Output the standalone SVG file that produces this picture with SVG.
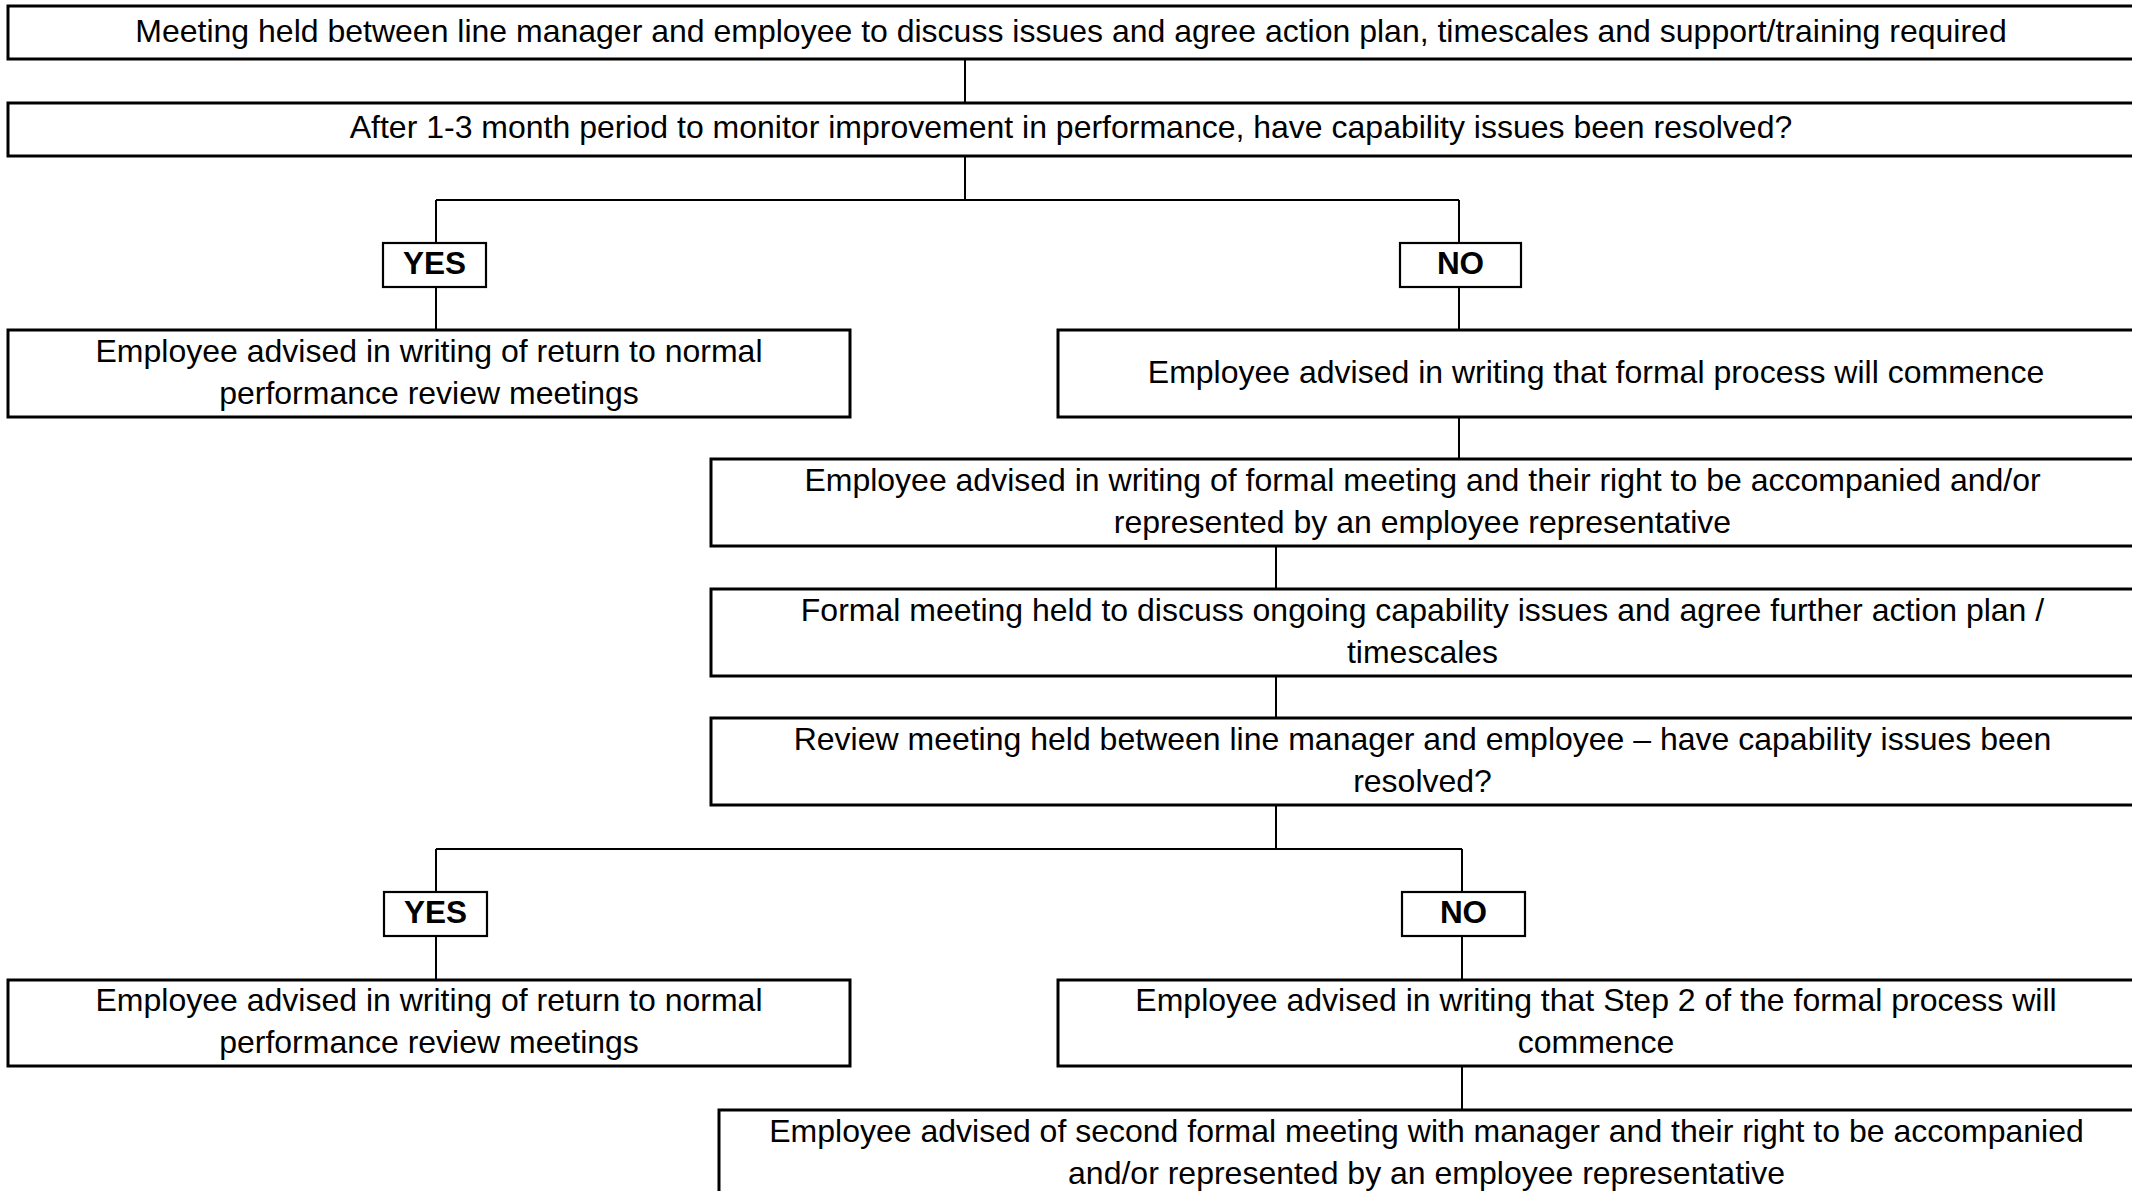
<svg xmlns="http://www.w3.org/2000/svg" width="2132" height="1191" viewBox="0 0 2132 1191">
<style>
.box{fill:#fff;stroke:#000;stroke-width:3}
.lbl{fill:#fff;stroke:#000;stroke-width:2.2}
.t{font-family:"Liberation Sans",Arial,sans-serif;font-size:32px;fill:#000;text-anchor:middle}
.b{font-family:"Liberation Sans",Arial,sans-serif;font-size:31.5px;font-weight:bold;fill:#000;text-anchor:middle}
.c{fill:none;stroke:#000;stroke-width:2}
</style>
<rect width="2132" height="1191" fill="#fff"/>
<g id="connectors">
<path class="c" d="M965 59V103"/>
<path class="c" d="M965 156V200M436 200H1459M436 200V243M1459 200V243"/>
<path class="c" d="M436 287V330M1459 287V330"/>
<path class="c" d="M1459 417V459"/>
<path class="c" d="M1276 546V589"/>
<path class="c" d="M1276 676V718"/>
<path class="c" d="M1276 805V849M436 849H1462M436 849V892M1462 849V892"/>
<path class="c" d="M436 936V980M1462 936V980"/>
<path class="c" d="M1462 1066V1110"/>
</g>
<g id="n1"><rect class="box" x="8" y="6" width="2126" height="53"/><text class="t" x="1071" y="42">Meeting held between line manager and employee to discuss issues and agree action plan, timescales and support/training required</text></g>
<g id="n2"><rect class="box" x="8" y="103" width="2126" height="53"/><text class="t" x="1071" y="138">After 1-3 month period to monitor improvement in performance, have capability issues been resolved?</text></g>
<g id="yes1"><rect class="lbl" x="383" y="243" width="103" height="44"/><text class="b" x="434.5" y="274">YES</text></g>
<g id="no1"><rect class="lbl" x="1400" y="243" width="121" height="44"/><text class="b" x="1460.5" y="274">NO</text></g>
<g id="n3"><rect class="box" x="8" y="330" width="842" height="87"/><text class="t" x="429" y="362">Employee advised in writing of return to normal</text><text class="t" x="429" y="404">performance review meetings</text></g>
<g id="n4"><rect class="box" x="1058" y="330" width="1076" height="87"/><text class="t" x="1596" y="383">Employee advised in writing that formal process will commence</text></g>
<g id="n5"><rect class="box" x="711" y="459" width="1423" height="87"/><text class="t" x="1422.5" y="491">Employee advised in writing of formal meeting and their right to be accompanied and/or</text><text class="t" x="1422.5" y="533">represented by an employee representative</text></g>
<g id="n6"><rect class="box" x="711" y="589" width="1423" height="87"/><text class="t" x="1422.5" y="621">Formal meeting held to discuss ongoing capability issues and agree further action plan /</text><text class="t" x="1422.5" y="663">timescales</text></g>
<g id="n7"><rect class="box" x="711" y="718" width="1423" height="87"/><text class="t" x="1422.5" y="750">Review meeting held between line manager and employee – have capability issues been</text><text class="t" x="1422.5" y="792">resolved?</text></g>
<g id="yes2"><rect class="lbl" x="384" y="892" width="103" height="44"/><text class="b" x="435.5" y="923">YES</text></g>
<g id="no2"><rect class="lbl" x="1402" y="892" width="123" height="44"/><text class="b" x="1463.5" y="923">NO</text></g>
<g id="n8"><rect class="box" x="8" y="980" width="842" height="86"/><text class="t" x="429" y="1011">Employee advised in writing of return to normal</text><text class="t" x="429" y="1053">performance review meetings</text></g>
<g id="n9"><rect class="box" x="1058" y="980" width="1076" height="86"/><text class="t" x="1596" y="1011">Employee advised in writing that Step 2 of the formal process will</text><text class="t" x="1596" y="1053">commence</text></g>
<g id="n10"><rect class="box" x="719" y="1110" width="1415" height="87"/><text class="t" x="1426.5" y="1142">Employee advised of second formal meeting with manager and their right to be accompanied</text><text class="t" x="1426.5" y="1184">and/or represented by an employee representative</text></g>
</svg>
